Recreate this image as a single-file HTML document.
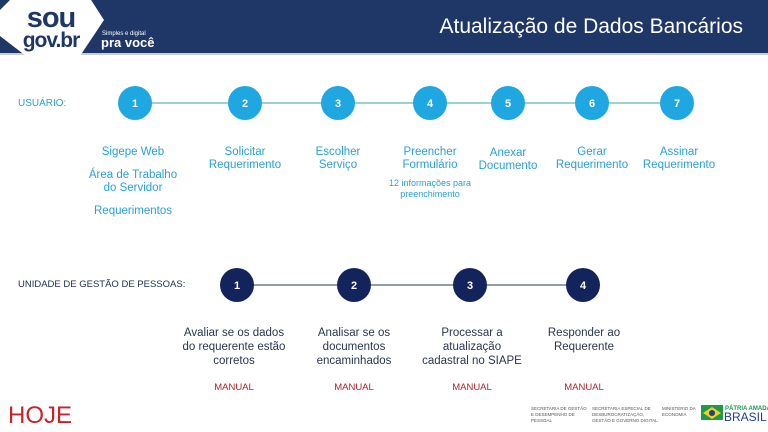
<!DOCTYPE html>
<html><head><meta charset="utf-8"><style>
html,body{margin:0;padding:0;background:#fff}
svg{display:block}
text{font-family:"Liberation Sans",sans-serif}
</style></head><body>
<svg width="768" height="432" viewBox="0 0 768 432" xmlns="http://www.w3.org/2000/svg">
<rect x="0" y="0" width="768" height="53" fill="#1f3767"/>
<rect x="0" y="53" width="768" height="2" fill="#c9ccd2"/>
<polygon points="0,10 24,-14 82,-14 104,20 80,56 26,56 0,36" fill="#fff"/>
<text x="51" y="27" text-anchor="middle" font-size="29" font-weight="bold" fill="#1f3767" letter-spacing="-1">sou</text>
<text x="51" y="47" text-anchor="middle" font-size="21" font-weight="bold" fill="#1f3767" letter-spacing="-1">gov.br</text>
<text x="102" y="35" font-size="6" fill="#fff">Simples e digital</text>
<text x="101" y="47" font-size="13" font-weight="bold" fill="#fff">pra você</text>
<text x="743" y="33" text-anchor="end" font-size="21" fill="#fff">Atualização de Dados Bancários</text>

<text x="18" y="106" font-size="10" fill="#2a9fd6">USUÁRIO:</text>
<line x1="135" y1="103" x2="677" y2="103" stroke="#5fb7b1" stroke-width="1.3"/>
<g fill="#1ea7e1">
<circle cx="135" cy="103" r="17"/><circle cx="245" cy="103" r="17"/><circle cx="338" cy="103" r="17"/><circle cx="430" cy="103" r="17"/><circle cx="508" cy="103" r="17"/><circle cx="592" cy="103" r="17"/><circle cx="677" cy="103" r="17"/>
</g>
<g fill="#fff" font-size="11" font-weight="bold" text-anchor="middle">
<text x="135" y="107">1</text><text x="245" y="107">2</text><text x="338" y="107">3</text><text x="430" y="107">4</text><text x="508" y="107">5</text><text x="592" y="107">6</text><text x="677" y="107">7</text>
</g>
<g fill="#2aa0d8" font-size="11.5" text-anchor="middle">
<text x="133" y="155">Sigepe Web</text>
<text x="133" y="178">Área de Trabalho</text>
<text x="133" y="191">do Servidor</text>
<text x="133" y="214">Requerimentos</text>
<text x="245" y="155">Solicitar</text><text x="245" y="168">Requerimento</text>
<text x="338" y="155">Escolher</text><text x="338" y="168">Serviço</text>
<text x="430" y="155">Preencher</text><text x="430" y="168">Formulário</text>
<text x="430" y="186" font-size="9">12 informações para</text>
<text x="430" y="197" font-size="9">preenchimento</text>
<text x="508" y="156">Anexar</text><text x="508" y="169">Documento</text>
<text x="592" y="155">Gerar</text><text x="592" y="168">Requerimento</text>
<text x="679" y="155">Assinar</text><text x="679" y="168">Requerimento</text>
</g>

<text x="18" y="287" font-size="9.5" fill="#1d2a55">UNIDADE DE GESTÃO DE PESSOAS:</text>
<line x1="237" y1="285" x2="583" y2="285" stroke="#55607a" stroke-width="1.3"/>
<g fill="#13245c">
<circle cx="237" cy="285" r="17"/><circle cx="354" cy="285" r="17"/><circle cx="470" cy="285" r="17"/><circle cx="583" cy="285" r="17"/>
</g>
<g fill="#fff" font-size="11" font-weight="bold" text-anchor="middle">
<text x="237" y="289">1</text><text x="354" y="289">2</text><text x="470" y="289">3</text><text x="583" y="289">4</text>
</g>
<g fill="#2b3550" font-size="11.5" text-anchor="middle">
<text x="234" y="336">Avaliar se os dados</text><text x="234" y="350">do requerente estão</text><text x="234" y="364">corretos</text>
<text x="354" y="336">Analisar se os</text><text x="354" y="350">documentos</text><text x="354" y="364">encaminhados</text>
<text x="472" y="336">Processar a</text><text x="472" y="350">atualização</text><text x="472" y="364">cadastral no SIAPE</text>
<text x="584" y="336">Responder ao</text><text x="584" y="350">Requerente</text>
</g>
<g fill="#b2222a" font-size="9.5" text-anchor="middle">
<text x="234" y="390">MANUAL</text><text x="354" y="390">MANUAL</text><text x="472" y="390">MANUAL</text><text x="584" y="390">MANUAL</text>
</g>
<text x="8" y="423" font-size="24" fill="#c8232c">HOJE</text>

<g font-size="4.5" fill="#555">
<text x="531" y="410">SECRETARIA DE GESTÃO</text><text x="531" y="416">E DESEMPENHO DE</text><text x="531" y="422">PESSOAL</text>
<text x="592" y="410">SECRETARIA ESPECIAL DE</text><text x="592" y="416">DESBUROCRATIZAÇÃO,</text><text x="592" y="422">GESTÃO E GOVERNO DIGITAL</text>
<text x="662" y="410">MINISTÉRIO DA</text><text x="662" y="416">ECONOMIA</text>
</g>
<rect x="701" y="405" width="22" height="15" fill="#1d9a4a"/>
<polygon points="703,413 712,407 721,413 712,419" fill="#f3cf1a"/>
<circle cx="712" cy="413" r="3" fill="#1f3f93"/>
<text x="725" y="410" font-size="6" font-weight="bold" fill="#1d9a4a">PÁTRIA AMADA</text>
<text x="724" y="421" font-size="12" fill="#1f3f93">BRASIL</text>
</svg>
</body></html>
